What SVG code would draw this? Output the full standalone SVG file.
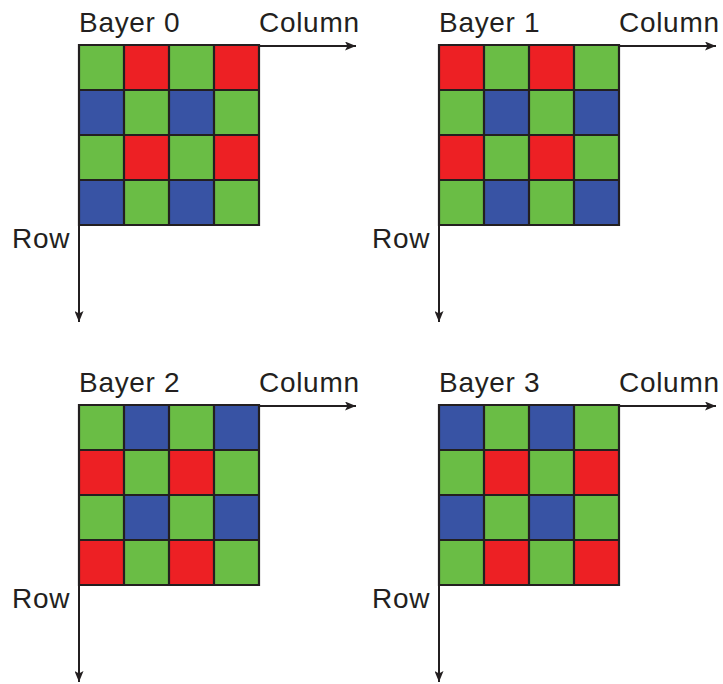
<svg xmlns="http://www.w3.org/2000/svg" width="723" height="684" viewBox="0 0 723 684">
<style>
.G{fill:#6abd45}.R{fill:#ed2024}.B{fill:#3853a4}
.grid{fill:none;stroke:#231f20;stroke-width:2.2}
.ax{stroke:#231f20;stroke-width:2;fill:none}
text{font-family:"Liberation Sans",Arial,sans-serif;font-size:28px;letter-spacing:0.7px;fill:#231f20}
</style>
<defs>
<marker id="ah" viewBox="0 0 11 9" refX="11" refY="4.5" markerWidth="11" markerHeight="9" markerUnits="userSpaceOnUse" orient="auto">
<path d="M0,0 L11,4.5 L0,9 L2.5,4.5 Z" fill="#231f20"/>
</marker>
<g id="gridlines">
<path class="grid" d="M0,0H180V180H0Z M45,0V180 M90,0V180 M135,0V180 M0,45H180 M0,90H180 M0,135H180"/>
</g>
</defs>
<g id="connectors">
<path class="ax" d="M259,46H356" marker-end="url(#ah)"/>
<path class="ax" d="M79,225V322" marker-end="url(#ah)"/>
<path class="ax" d="M619,46H716" marker-end="url(#ah)"/>
<path class="ax" d="M439,225V322" marker-end="url(#ah)"/>
<path class="ax" d="M259,406H356" marker-end="url(#ah)"/>
<path class="ax" d="M79,585V682" marker-end="url(#ah)"/>
<path class="ax" d="M619,406H716" marker-end="url(#ah)"/>
<path class="ax" d="M439,585V682" marker-end="url(#ah)"/>
</g>
<g id="bayer0" transform="translate(79,45)">
<rect class="G" x="0" y="0" width="45" height="45"/><rect class="R" x="45" y="0" width="45" height="45"/><rect class="G" x="90" y="0" width="45" height="45"/><rect class="R" x="135" y="0" width="45" height="45"/>
<rect class="B" x="0" y="45" width="45" height="45"/><rect class="G" x="45" y="45" width="45" height="45"/><rect class="B" x="90" y="45" width="45" height="45"/><rect class="G" x="135" y="45" width="45" height="45"/>
<rect class="G" x="0" y="90" width="45" height="45"/><rect class="R" x="45" y="90" width="45" height="45"/><rect class="G" x="90" y="90" width="45" height="45"/><rect class="R" x="135" y="90" width="45" height="45"/>
<rect class="B" x="0" y="135" width="45" height="45"/><rect class="G" x="45" y="135" width="45" height="45"/><rect class="B" x="90" y="135" width="45" height="45"/><rect class="G" x="135" y="135" width="45" height="45"/>
<use href="#gridlines"/>
</g>
<g id="bayer1" transform="translate(439,45)">
<rect class="R" x="0" y="0" width="45" height="45"/><rect class="G" x="45" y="0" width="45" height="45"/><rect class="R" x="90" y="0" width="45" height="45"/><rect class="G" x="135" y="0" width="45" height="45"/>
<rect class="G" x="0" y="45" width="45" height="45"/><rect class="B" x="45" y="45" width="45" height="45"/><rect class="G" x="90" y="45" width="45" height="45"/><rect class="B" x="135" y="45" width="45" height="45"/>
<rect class="R" x="0" y="90" width="45" height="45"/><rect class="G" x="45" y="90" width="45" height="45"/><rect class="R" x="90" y="90" width="45" height="45"/><rect class="G" x="135" y="90" width="45" height="45"/>
<rect class="G" x="0" y="135" width="45" height="45"/><rect class="B" x="45" y="135" width="45" height="45"/><rect class="G" x="90" y="135" width="45" height="45"/><rect class="B" x="135" y="135" width="45" height="45"/>
<use href="#gridlines"/>
</g>
<g id="bayer2" transform="translate(79,405)">
<rect class="G" x="0" y="0" width="45" height="45"/><rect class="B" x="45" y="0" width="45" height="45"/><rect class="G" x="90" y="0" width="45" height="45"/><rect class="B" x="135" y="0" width="45" height="45"/>
<rect class="R" x="0" y="45" width="45" height="45"/><rect class="G" x="45" y="45" width="45" height="45"/><rect class="R" x="90" y="45" width="45" height="45"/><rect class="G" x="135" y="45" width="45" height="45"/>
<rect class="G" x="0" y="90" width="45" height="45"/><rect class="B" x="45" y="90" width="45" height="45"/><rect class="G" x="90" y="90" width="45" height="45"/><rect class="B" x="135" y="90" width="45" height="45"/>
<rect class="R" x="0" y="135" width="45" height="45"/><rect class="G" x="45" y="135" width="45" height="45"/><rect class="R" x="90" y="135" width="45" height="45"/><rect class="G" x="135" y="135" width="45" height="45"/>
<use href="#gridlines"/>
</g>
<g id="bayer3" transform="translate(439,405)">
<rect class="B" x="0" y="0" width="45" height="45"/><rect class="G" x="45" y="0" width="45" height="45"/><rect class="B" x="90" y="0" width="45" height="45"/><rect class="G" x="135" y="0" width="45" height="45"/>
<rect class="G" x="0" y="45" width="45" height="45"/><rect class="R" x="45" y="45" width="45" height="45"/><rect class="G" x="90" y="45" width="45" height="45"/><rect class="R" x="135" y="45" width="45" height="45"/>
<rect class="B" x="0" y="90" width="45" height="45"/><rect class="G" x="45" y="90" width="45" height="45"/><rect class="B" x="90" y="90" width="45" height="45"/><rect class="G" x="135" y="90" width="45" height="45"/>
<rect class="G" x="0" y="135" width="45" height="45"/><rect class="R" x="45" y="135" width="45" height="45"/><rect class="G" x="90" y="135" width="45" height="45"/><rect class="R" x="135" y="135" width="45" height="45"/>
<use href="#gridlines"/>
</g>
<g id="labels">
<text x="79" y="32">Bayer 0</text>
<text x="259" y="32">Column</text>
<text x="12" y="248">Row</text>
<text x="439" y="32">Bayer 1</text>
<text x="619" y="32">Column</text>
<text x="372" y="248">Row</text>
<text x="79" y="392">Bayer 2</text>
<text x="259" y="392">Column</text>
<text x="12" y="608">Row</text>
<text x="439" y="392">Bayer 3</text>
<text x="619" y="392">Column</text>
<text x="372" y="608">Row</text>
</g>
</svg>
